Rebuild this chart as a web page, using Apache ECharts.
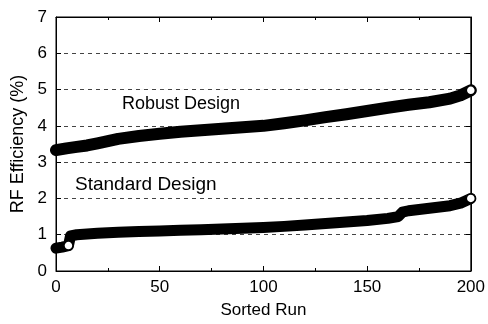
<!DOCTYPE html>
<html>
<head>
<meta charset="utf-8">
<script src="https://cdn.jsdelivr.net/npm/echarts@6/dist/echarts.min.js"></script>
<style>html,body{margin:0;padding:0;background:#fff}#c{width:488px;height:324px}</style>
</head>
<body>
<div id="c"></div>
<script>
var xTicks = [0, 50, 100, 150, 200];
var yTicks = [0, 1, 2, 3, 4, 5, 6, 7];

var robustX = [0, 5, 10, 15, 20, 25, 30, 40, 50, 60, 70, 80, 90, 100, 110, 120, 130, 140, 150, 160, 170, 180, 190, 195, 200];
var robustY = [3.33, 3.38, 3.42, 3.46, 3.52, 3.58, 3.64, 3.72, 3.78, 3.84, 3.88, 3.92, 3.96, 4.0, 4.07, 4.15, 4.24, 4.32, 4.41, 4.5, 4.58, 4.65, 4.75, 4.84, 4.98];
var robustOpen = [200];

var standardX = [0, 3, 6, 7, 10, 20, 30, 40, 50, 60, 70, 80, 90, 100, 110, 120, 130, 140, 150, 160, 165, 167, 170, 180, 190, 195, 200];
var standardY = [0.63, 0.66, 0.70, 0.97, 1.0, 1.04, 1.07, 1.09, 1.1, 1.12, 1.14, 1.16, 1.18, 1.2, 1.23, 1.27, 1.31, 1.35, 1.39, 1.45, 1.5, 1.62, 1.66, 1.73, 1.8, 1.87, 2.0];
var standardOpen = [6, 200];

var labels = ['Robust Design', 'Standard Design'];

function build(xs, ys, openList) {
  return xs.map(function (x, i) {
    var item = { value: [x, ys[i]] };
    if (openList.indexOf(x) >= 0) {
      item.symbol = 'circle';
      item.symbolSize = 9;
      item.itemStyle = { color: '#fff', borderColor: '#000', borderWidth: 1.5 };
    }
    return item;
  });
}

var FONT = 'Liberation Sans';
function line() { return { show: true, onZero: false, lineStyle: { color: '#000', width: 1 } }; }
function tick() { return { show: true, inside: true, length: 5, lineStyle: { color: '#000', width: 1 } }; }
function minor() { return { show: true, splitNumber: 2, length: 3, lineStyle: { color: '#000', width: 1 } }; }

var chart = echarts.init(document.getElementById('c'), null, { renderer: 'canvas' });
var option = {
  animation: false,
  backgroundColor: '#fff',
  grid: { left: 56, right: 16, top: 17, bottom: 53, containLabel: false, show: true, borderColor: '#000', borderWidth: 1, backgroundColor: 'transparent' },
  xAxis: [{
    type: 'value', min: xTicks[0], max: xTicks[xTicks.length - 1], interval: 50,
    axisLine: line(), axisTick: tick(), minorTick: minor(),
    axisLabel: { color: '#000', fontFamily: FONT, fontSize: 17, margin: 8 },
    splitLine: { show: false },
    name: 'Sorted Run', nameLocation: 'middle', nameGap: 31,
    nameTextStyle: { color: '#000', fontFamily: FONT, fontSize: 17 }
  }, {
    type: 'value', position: 'top', min: 0, max: 200, interval: 50,
    axisLine: line(), axisTick: tick(), minorTick: minor(),
    axisLabel: { show: false }, splitLine: { show: false }
  }],
  yAxis: [{
    type: 'value', min: yTicks[0], max: yTicks[yTicks.length - 1], interval: 1,
    axisLine: line(), axisTick: tick(),
    axisLabel: { color: '#000', fontFamily: FONT, fontSize: 17, margin: 9 },
    splitLine: { show: true, lineStyle: { color: '#444', width: 1, type: [4, 4] } },
    name: 'RF Efficiency (%)', nameLocation: 'middle', nameGap: 24,
    nameTextStyle: { color: '#000', fontFamily: FONT, fontSize: 18 }
  }, {
    type: 'value', position: 'right', min: 0, max: 7, interval: 1,
    axisLine: line(), axisTick: tick(),
    axisLabel: { show: false }, splitLine: { show: false }
  }],
  series: [{
    name: labels[0], type: 'line', symbol: 'none', showSymbol: true,
    data: build(robustX, robustY, robustOpen),
    lineStyle: { color: '#000', width: 12, cap: 'round', join: 'round' },
    itemStyle: { color: '#000' }, z: 3
  }, {
    name: labels[1], type: 'line', symbol: 'none', showSymbol: true,
    data: build(standardX, standardY, standardOpen),
    lineStyle: { color: '#000', width: 11, cap: 'round', join: 'round' },
    itemStyle: { color: '#000' }, z: 3
  }],
  graphic: [
    { type: 'text', left: 122, top: 95, style: { text: labels[0], fill: '#000', font: '18px "Liberation Sans"' } },
    { type: 'text', left: 75, top: 175, style: { text: labels[1], fill: '#000', font: '19px "Liberation Sans"' } }
  ]
};
chart.setOption(option);
</script>
</body>
</html>
